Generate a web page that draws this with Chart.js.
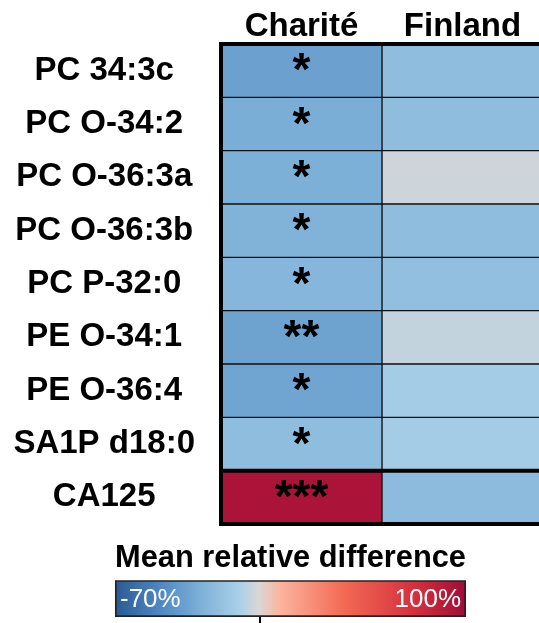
<!DOCTYPE html>
<html>
<head>
<meta charset="utf-8">
<script src="https://cdn.jsdelivr.net/npm/chart.js@4.4.1/dist/chart.umd.min.js"></script>
<style>
  html, body { margin: 0; padding: 0; background: #fff; overflow: hidden; width: 539px; height: 623px; }
  #heat { position: absolute; left: 0; top: 0; }
  #bar { position: absolute; left: 0; top: 528px; }
</style>
</head>
<body>
<canvas id="heat" width="560" height="530"></canvas>
<canvas id="bar" width="539" height="95"></canvas>
<script>
// Lipids / markers (rows) and cohorts (columns)
const rows = ['PC 34:3c', 'PC O-34:2', 'PC O-36:3a', 'PC O-36:3b', 'PC P-32:0',
  'PE O-34:1', 'PE O-36:4', 'SA1P d18:0', 'CA125'];
const cohorts = ['Charité', 'Finland'];

// Mean relative difference (%)
const chariteValues = [-36, -30, -29, -27, -25, -35, -34, -21, 95];
const finlandValues = [-21, -21, -3, -21, -20, -5, -12, -12, -22];

// Significance stars (Charité only)
const chariteStars = ['*', '*', '*', '*', '*', '**', '*', '*', '***'];

// Colour scale
const scaleMin = -70;
const scaleMax = 100;
const colorStops = [
  [-70, '#2b5a93'],
  [-50, '#4a83bf'],
  [-30, '#7aaed6'],
  [-10, '#a9cfe8'],
  [0, '#dcd6d4'],
  [10, '#fcb49e'],
  [40, '#f36b55'],
  [75, '#d6303d'],
  [100, '#a00c37']
];

const FONT = '"Liberation Sans", Arial, Helvetica, sans-serif';

function hexToRgb(h) {
  const n = parseInt(h.slice(1), 16);
  return [(n >> 16) & 255, (n >> 8) & 255, n & 255];
}

function valueColor(v) {
  if (v <= colorStops[0][0]) return colorStops[0][1];
  for (let i = 1; i < colorStops.length; i++) {
    const [v1, c1] = colorStops[i];
    if (v <= v1) {
      const [v0, c0] = colorStops[i - 1];
      const t = (v - v0) / (v1 - v0);
      const a = hexToRgb(c0), b = hexToRgb(c1);
      const c = a.map((x, k) => Math.round(x + (b[k] - x) * t));
      return `rgb(${c[0]}, ${c[1]}, ${c[2]})`;
    }
  }
  return colorStops[colorStops.length - 1][1];
}

// Frame, thick separator above CA125, and stars
const heatDecor = {
  id: 'heatDecor',
  afterDatasetsDraw(chart) {
    const ctx = chart.ctx;
    const area = chart.chartArea;
    const y = chart.scales.y;
    ctx.save();
    ctx.strokeStyle = '#000';
    ctx.lineWidth = 4;
    ctx.strokeRect(area.left, area.top, area.right - area.left, area.bottom - area.top);
    // separator between last lipid and CA125
    const last = rows.length - 1;
    const sepY = (y.getPixelForValue(last - 1) + y.getPixelForValue(last)) / 2;
    ctx.beginPath();
    ctx.moveTo(area.left, sepY);
    ctx.lineTo(area.right, sepY);
    ctx.stroke();

    // stars
    const meta = chart.getDatasetMeta(0);
    ctx.fillStyle = '#000';
    ctx.font = `bold 46px ${FONT}`;
    ctx.textAlign = 'center';
    ctx.textBaseline = 'middle';
    meta.data.forEach((el, i) => {
      const cx = (el.x + el.base) / 2;
      ctx.fillText(chariteStars[i], cx, el.y + 2);
    });
    ctx.restore();
  }
};

new Chart(document.getElementById('heat'), {
  type: 'bar',
  data: {
    labels: rows,
    datasets: [
      {
        label: cohorts[0],
        data: chariteValues.map(() => [0, 1]),
        backgroundColor: chariteValues.map(valueColor),
        borderColor: '#111',
        borderWidth: 1,
        borderSkipped: false,
        grouped: false,
        barPercentage: 1,
        categoryPercentage: 1
      },
      {
        label: cohorts[1],
        data: finlandValues.map(() => [1, 2]),
        backgroundColor: finlandValues.map(valueColor),
        borderColor: '#111',
        borderWidth: 1,
        borderSkipped: false,
        grouped: false,
        barPercentage: 1,
        categoryPercentage: 1
      }
    ]
  },
  options: {
    indexAxis: 'y',
    responsive: false,
    animation: false,
    layout: { padding: { left: 0, right: 17, top: 0, bottom: 6 } },
    plugins: {
      legend: { display: false },
      tooltip: { enabled: false }
    },
    scales: {
      x: { type: 'linear', min: 0, max: 2, display: false },
      xTop: {
        type: 'category',
        position: 'top',
        labels: cohorts,
        offset: true,
        grid: { display: false, drawTicks: false },
        border: { display: false },
        ticks: { color: '#000', font: { family: FONT, size: 33, weight: 'bold' }, padding: -3 },
        afterFit(scale) { scale.height = 44; }
      },
      y: {
        type: 'category',
        grid: { display: false, drawTicks: false },
        border: { display: false },
        ticks: {
          color: '#000',
          crossAlign: 'center',
          padding: 26,
          font: { family: FONT, size: 33, weight: 'bold' }
        },
        afterFit(scale) {
          scale.width = 221;
          scale.paddingTop = 0;
          scale.paddingBottom = 0;
        }
      }
    }
  },
  plugins: [heatDecor]
});

// Colour bar legend
const barLabels = {
  id: 'barLabels',
  afterDatasetsDraw(chart) {
    const ctx = chart.ctx;
    const area = chart.chartArea;
    const midY = (area.top + area.bottom) / 2;
    ctx.save();
    ctx.fillStyle = '#fff';
    ctx.font = `26px ${FONT}`;
    ctx.textBaseline = 'middle';
    ctx.textAlign = 'left';
    ctx.fillText(scaleMin + '%', area.left + 5, midY + 1);
    ctx.textAlign = 'right';
    ctx.fillText(scaleMax + '%', area.right - 5, midY + 1);
    ctx.restore();
  }
};

new Chart(document.getElementById('bar'), {
  type: 'bar',
  data: {
    labels: [''],
    datasets: [{
      data: [[scaleMin, scaleMax]],
      backgroundColor(context) {
        const area = context.chart.chartArea;
        if (!area) return '#ccc';
        const g = context.chart.ctx.createLinearGradient(area.left, 0, area.right, 0);
        colorStops.forEach(([v, c]) => g.addColorStop((v - scaleMin) / (scaleMax - scaleMin), c));
        return g;
      },
      borderColor: '#222',
      borderWidth: 2,
      borderSkipped: false,
      barPercentage: 1,
      categoryPercentage: 1
    }]
  },
  options: {
    indexAxis: 'y',
    responsive: false,
    animation: false,
    layout: { padding: { left: 115, right: 73, top: 0, bottom: 0 } },
    plugins: {
      legend: { display: false },
      tooltip: { enabled: false },
      title: {
        display: true,
        text: 'Mean relative difference',
        color: '#000',
        font: { family: FONT, size: 31, weight: 'bold' },
        padding: { top: 12, bottom: 3 }
      }
    },
    scales: {
      x: {
        type: 'linear',
        min: scaleMin,
        max: scaleMax,
        afterBuildTicks(scale) { scale.ticks = [{ value: 0 }]; },
        ticks: { callback: () => '', padding: 0 },
        grid: { drawOnChartArea: false, drawTicks: true, tickLength: 6, color: '#000', lineWidth: 2 },
        border: { display: false },
        afterFit(scale) { scale.height = 6; }
      },
      y: { display: false }
    }
  },
  plugins: [barLabels]
});
</script>
</body>
</html>
